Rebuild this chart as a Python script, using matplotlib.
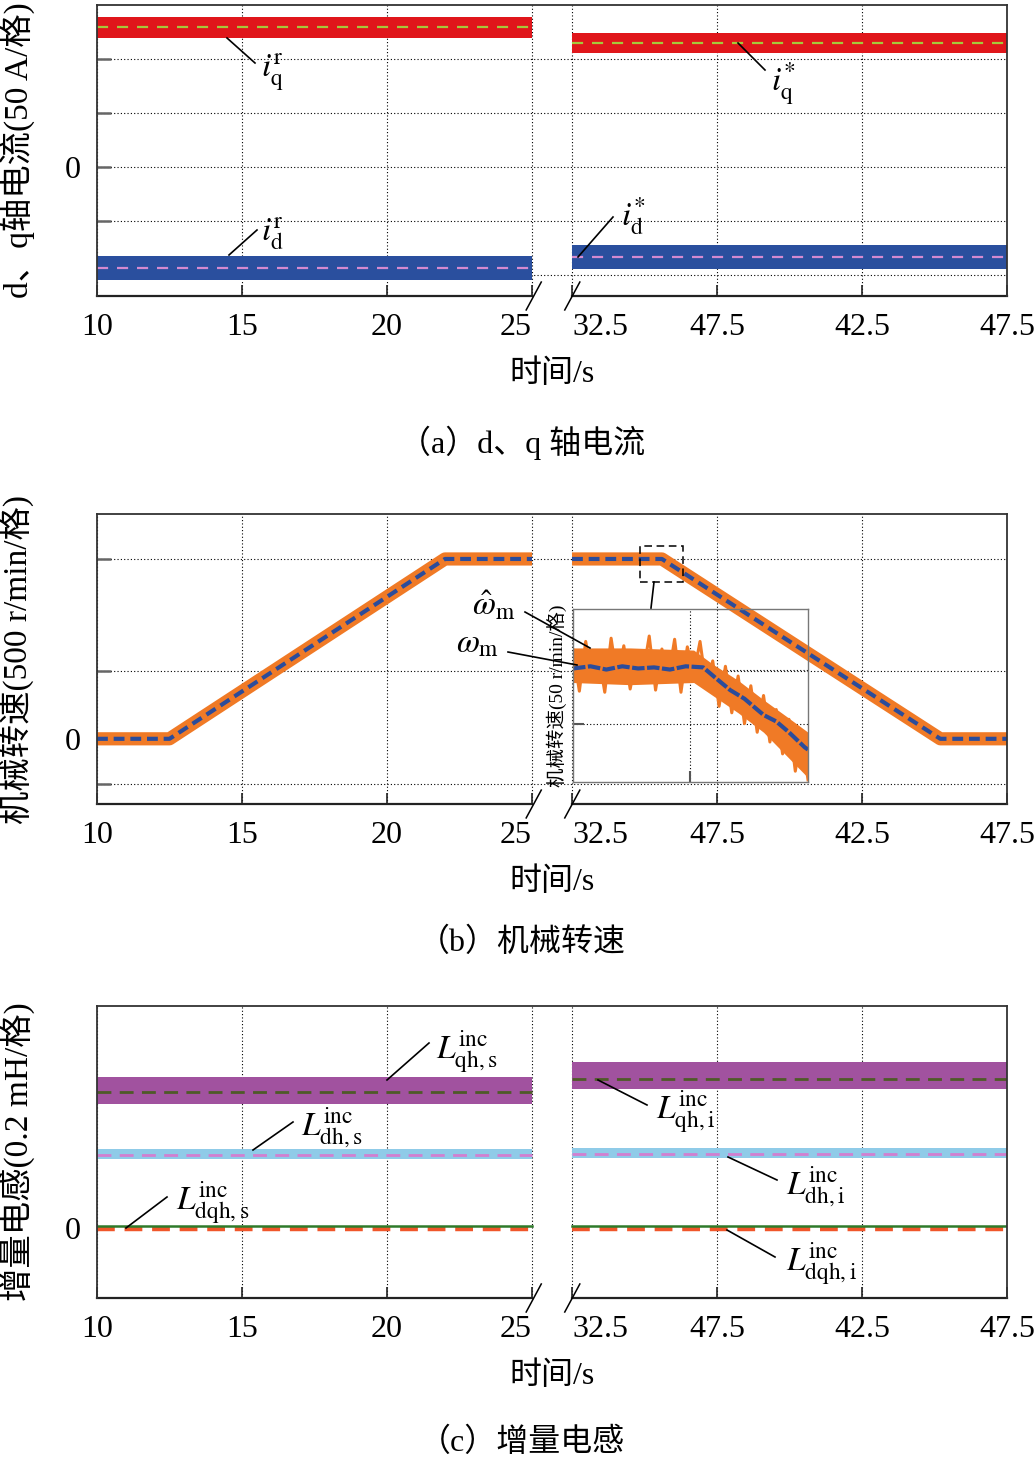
import numpy as np
import matplotlib
matplotlib.use("Agg")
import matplotlib.pyplot as plt
from matplotlib.lines import Line2D
from matplotlib.patches import Rectangle

plt.rcParams['font.family'] = ['Liberation Serif', 'Noto Sans CJK SC']
plt.rcParams['mathtext.fontset'] = 'stix'

W, H = 1036, 1461

# broken time axis: 10-25 s, then 32.5-47.5 s
GAP = 1.38
xtick_times = [10, 15, 20, 25, 32.5, 37.5, 42.5, 47.5]
xtick_labels = ['10', '15', '20', '25', '32.5', '47.5', '42.5', '47.5']
seg_left = [10, 25]
seg_right = [32.5, 47.5]

# (a) d/q currents, in divisions (50 A each); [left segment, right segment]
iq_ref = [2.59, 2.30]
iq_hi = [2.78, 2.48]
iq_lo = [2.39, 2.11]
id_ref = [-1.87, -1.67]
id_hi = [-1.64, -1.44]
id_lo = [-2.10, -1.89]

# (b) mechanical speed, r/min
speed_t = [10, 12.5, 22.0, 25, 32.5, 35.6, 45.2, 47.5]
speed_real = [0, 0, 800, 800, 800, 800, 0, 0]
speed_est = [0, 0, 800, 800, 800, 800, 0, 0]

# inset, start of the deceleration
ins_t = [34.84, 34.88, 34.92, 34.96, 35.00, 35.04, 35.08, 35.12, 35.16, 35.20,
         35.24, 35.28, 35.32, 35.36, 35.40, 35.44, 35.48, 35.52, 35.56, 35.60,
         35.64, 35.68, 35.72, 35.76, 35.80, 35.84, 35.88, 35.92, 35.96, 36.00,
         36.04, 36.08, 36.12, 36.16, 36.20, 36.24, 36.28, 36.32]
ins_est = [818, 780, 826, 792, 815, 779, 829, 790, 822, 782,
           812, 795, 831, 781, 819, 792, 828, 779, 821, 795,
           826, 784, 808, 766, 803, 760, 794, 750, 785, 742,
           776, 733, 763, 722, 754, 706, 741, 698]
ins_env_t = [34.84, 35.20, 35.60, 35.72, 35.88, 36.04, 36.20, 36.32]
ins_env_hi = [820, 820, 818, 805, 790, 772, 755, 742]
ins_env_lo = [788, 786, 788, 776, 760, 742, 718, 700]
ins_real_t = [34.84, 34.95, 35.05, 35.15, 35.25, 35.35, 35.45, 35.55, 35.66,
              35.74, 35.83, 35.92, 36.04, 36.12, 36.20, 36.30, 36.32]
ins_real = [801, 803, 800, 803, 801, 802, 800, 803, 802,
            792, 781, 773, 758, 752, 742, 728, 726]

# (c) incremental inductances, in divisions (0.2 mH each)
Lqh_ref = [1.81, 1.99]
Lqh_hi = [2.02, 2.21]
Lqh_lo = [1.66, 1.86]
Ldh_ref = [0.98, 0.99]
Ldh_hi = [1.06, 1.07]
Ldh_lo = [0.92, 0.93]
Ldqh_est = [0.025, 0.03]
Ldqh_ref = [-0.012, -0.01]


def xmap(t):
    t = np.asarray(t, dtype=float)
    return np.where(t <= 25, t, t - 32.5 + 25 + GAP)


def frame(ax, ylim, yticks, ylabels, ylabel):
    ax.set_xlim(10, float(xmap(47.5)))
    ax.set_ylim(*ylim)
    ax.set_axisbelow(True)
    ax.set_xticks(xmap(xtick_times), xtick_labels)
    ax.set_yticks(yticks, ylabels)
    labs = ax.get_xticklabels()
    labs[3].set_ha('right')
    labs[4].set_ha('left')
    ax.grid(True, color='k', linestyle=(0, (1, 2)), linewidth=0.8)
    ax.tick_params(axis='x', direction='in', labelsize=23, length=8, width=1.2,
                   pad=12, color='#222222')
    ax.tick_params(axis='y', direction='in', labelsize=23, length=10, width=1.8,
                   pad=12, color='#666666')
    for s in ['left', 'top', 'right']:
        ax.spines[s].set_color('#333333')
        ax.spines[s].set_linewidth(1.3)
    ax.spines['bottom'].set_visible(False)
    tr = ax.get_xaxis_transform()
    for a, b in [seg_left, seg_right]:
        ax.plot(xmap([a, b]), [0, 0], transform=tr, color='#222222', lw=1.6,
                clip_on=False)
    x25 = float(xmap(25))
    x32 = float(xmap(32.5))
    ax.plot([x25 - 0.2, x25 + 0.32], [-0.048, 0.048], transform=tr, color='k',
            lw=1.1, clip_on=False)
    ax.plot([x32 - 0.25, x32 + 0.27], [-0.048, 0.048], transform=tr, color='k',
            lw=1.1, clip_on=False)
    ax.set_xlabel('时间/s', fontsize=23, labelpad=13)
    ax.set_ylabel(ylabel, fontsize=24)
    ax.yaxis.set_label_coords(-0.068, 0.5)


def band(ax, ref, hi, lo, band_color, dash_color, lw=1.6, dash=(5, 4)):
    for k, (a, b) in enumerate([seg_left, seg_right]):
        xs = xmap([a, b])
        ax.fill_between(xs, [lo[k], lo[k]], [hi[k], hi[k]], color=band_color,
                        lw=0)
        ax.plot(xs, [ref[k], ref[k]], color=dash_color, lw=lw,
                linestyle=(0, dash))


def fp(x, y):
    return x / W, 1 - y / H


def leader(fig, x0, y0, x1, y1):
    fig.add_artist(Line2D([x0 / W, x1 / W], [1 - y0 / H, 1 - y1 / H],
                          transform=fig.transFigure, color='k', lw=1.2))


def tag(fig, x, y, s, size=24):
    fig.text(*fp(x, y), s, ha='left', va='center', fontsize=size)


fig = plt.figure(figsize=(W / 100, H / 100), dpi=100)

# ---------------- (a) ----------------
axa = fig.add_axes([97 / W, 1 - 296 / H, 910 / W, 291 / H])
frame(axa, (-2.39, 3.0), [-2, -1, 0, 1, 2], ['', '', '0', '', ''],
      'd、q轴电流(50 A/格)')
band(axa, iq_ref, iq_hi, iq_lo, '#e0161b', '#a6c83a')
band(axa, id_ref, id_hi, id_lo, '#2a4f9e', '#d48ad0')

leader(fig, 227, 38, 255, 63)
tag(fig, 261, 72, r'$i_{\mathrm{q}}^{\mathrm{r}}$')
leader(fig, 229, 255, 257, 230)
tag(fig, 261, 234, r'$i_{\mathrm{d}}^{\mathrm{r}}$')
leader(fig, 738, 43, 765, 70)
tag(fig, 771, 84, r'$i_{\mathrm{q}}^{*}$')
leader(fig, 578, 257, 613, 217)
tag(fig, 621, 216, r'$i_{\mathrm{d}}^{*}$')

# ---------------- (b) ----------------
axb = fig.add_axes([97 / W, 1 - 804 / H, 910 / W, 290 / H])
frame(axb, (-290, 1000), [-200, 300, 800], ['', '', ''],
      '机械转速(500 r/min/格)')
axb.set_yticks([0], ['0'], minor=True)
axb.tick_params(axis='y', which='minor', length=0, labelsize=23, pad=12)

st = np.array(speed_t, dtype=float)
for m in [st <= 25, st >= 32.5]:
    xs = xmap(st[m])
    axb.plot(xs, np.array(speed_est)[m], color='#f07a26', lw=9.5,
             solid_capstyle='butt')
    axb.plot(xs, np.array(speed_real)[m], color='#2b4c9b', lw=3,
             linestyle=(0, (2.6, 1.4)))

x0r = float(xmap(ins_t[0]))
x1r = float(xmap(ins_t[-1]))
axb.add_patch(Rectangle((x0r, 696), x1r - x0r, 856 - 696, fill=False,
                        edgecolor='k', lw=1.1, linestyle=(0, (5, 3)), zorder=5))
leader(fig, 654, 582, 651, 608)

axi = fig.add_axes([573 / W, 1 - 782 / H, 235 / W, 173 / H])
axi.set_facecolor('none')
axi.set_xlim(ins_t[0], ins_t[-1])
axi.set_ylim(696, 856)
axi.set_xticks([35.58], [''])
axi.set_yticks([750, 800], ['', ''])
axi.set_axisbelow(True)
axi.grid(True, color='k', linestyle=(0, (1, 2)), linewidth=0.8)
axi.tick_params(direction='in', length=8, width=1.5, color='#555555')
for s in axi.spines.values():
    s.set_color('#777777')
    s.set_linewidth(1.0)
axi.fill_between(ins_env_t, ins_env_lo, ins_env_hi, color='#f07a26', lw=0)
axi.plot(ins_t, ins_est, color='#f07a26', lw=2.2)
axi.plot(ins_real_t, ins_real, color='#2b4c9b', lw=3,
         linestyle=(0, (3, 0.6)))
axi.set_ylabel('机械转速(50 r/min/格)', fontsize=14, labelpad=1)

leader(fig, 525, 612, 590, 648)
tag(fig, 472, 606, r'$\hat{\omega}_{\mathrm{m}}$')
leader(fig, 508, 652, 577, 665)
tag(fig, 456, 644, r'$\omega_{\mathrm{m}}$')

# ---------------- (c) ----------------
axc = fig.add_axes([97 / W, 1 - 1298 / H, 910 / W, 292 / H])
frame(axc, (-0.93, 2.96), [0, 1, 2], ['0', '', ''], '增量电感(0.2 mH/格)')
axc.grid(False, axis='y')
axc.set_yticks([0, 1, 2], minor=True)
axc.yaxis.grid(True, which='minor', color='k', linestyle=(0, (1, 2)),
               linewidth=0.8)
band(axc, Lqh_ref, Lqh_hi, Lqh_lo, '#a1529f', '#4f5a28', lw=2, dash=(5, 3))
band(axc, Ldh_ref, Ldh_hi, Ldh_lo, '#8fcbe8', '#d27fd0', lw=2, dash=(5, 3))
for k, (a, b) in enumerate([seg_left, seg_right]):
    xs = xmap([a, b])
    axc.plot(xs, [Ldqh_ref[k]] * 2, color='#f0562a', lw=3.2,
             linestyle=(0, (4, 2.2)))
    axc.plot(xs, [Ldqh_est[k]] * 2, color='#2f7a2a', lw=1.8)

leader(fig, 429, 1043, 387, 1080)
tag(fig, 436, 1052, r'$L_{\mathrm{qh,s}}^{\mathrm{inc}}$')
leader(fig, 293, 1122, 253, 1150)
tag(fig, 301, 1128, r'$L_{\mathrm{dh,s}}^{\mathrm{inc}}$')
leader(fig, 167, 1197, 126, 1228)
tag(fig, 176, 1203, r'$L_{\mathrm{dqh,s}}^{\mathrm{inc}}$')
leader(fig, 647, 1105, 598, 1080)
tag(fig, 656, 1112, r'$L_{\mathrm{qh,i}}^{\mathrm{inc}}$')
leader(fig, 777, 1180, 728, 1157)
tag(fig, 786, 1187, r'$L_{\mathrm{dh,i}}^{\mathrm{inc}}$')
leader(fig, 775, 1257, 727, 1230)
tag(fig, 786, 1264, r'$L_{\mathrm{dqh,i}}^{\mathrm{inc}}$')

# captions
fig.text(*fp(522, 443), '（a）d、q 轴电流', ha='center', va='center', fontsize=23)
fig.text(*fp(522, 943), '（b）机械转速', ha='center', va='center', fontsize=23)
fig.text(*fp(522, 1443), '（c）增量电感', ha='center', va='center', fontsize=23)

fig.savefig('out.png', dpi=100)
